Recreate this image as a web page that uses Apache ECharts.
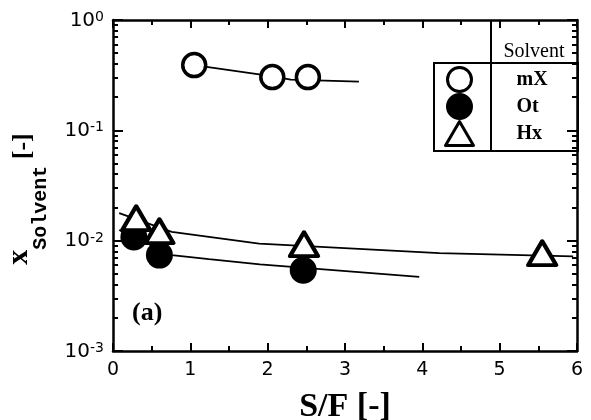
<!DOCTYPE html>
<html><head><meta charset="utf-8">
<script src="https://cdn.jsdelivr.net/npm/echarts@6/dist/echarts.min.js"></script>
<style>html,body{margin:0;padding:0;background:#fff}#c{width:591px;height:420px}</style>
</head><body><div id="c"></div>
<script>
// ---- data ----
const seriesNames = ['mX', 'Ot', 'Hx'];
const mX_sf = [1.05, 2.06, 2.52];
const mX_x  = [0.39, 0.304, 0.304];
const Ot_sf = [0.27, 0.60, 2.46];
const Ot_x  = [0.0108, 0.0074, 0.0054];
const Hx_sf = [0.30, 0.60, 2.47, 5.55];
const Hx_x  = [0.0160, 0.0122, 0.0093, 0.0077];
// correlation (fit) lines
const mXfit_sf = [1.05, 1.89, 2.30, 3.18];
const mXfit_x  = [0.39, 0.322, 0.288, 0.276];
const Otfit_sf = [0.08, 0.76, 1.24, 1.90, 3.96];
const Otfit_x  = [0.0125, 0.0074, 0.0068, 0.0061, 0.0047];
const Hxfit_sf = [0.08, 0.76, 1.89, 4.22, 5.95];
const Hxfit_x  = [0.0178, 0.0120, 0.0094, 0.0077, 0.0072];
// ticks
const xTickLabels = ['0', '1', '2', '3', '4', '5', '6'];
const yTickValues = [0.001, 0.01, 0.1, 1];
const yTickExps = ['-3', '-2', '-1', '0'];
const yMinorMult = [2, 3, 4, 5, 6, 7, 8, 9];

const zip = (a, b) => a.map((v, i) => [v, b[i]]);
const yMinorValues = [];
yTickValues.slice(0, -1).forEach(d => yMinorMult.forEach(m => yMinorValues.push(+(d * m).toPrecision(3))));

const SERIF = '"Liberation Serif", "Times New Roman", serif';
const SANS = '"DejaVu Sans", sans-serif';
const MONO = '"Liberation Mono", monospace';
const K = '#000';

const chart = echarts.init(document.getElementById('c'), null, {renderer: 'canvas'});

const baseY = {
  type: 'log', logBase: 10, min: 0.001, max: 1,
  splitLine: {show: false}, minorSplitLine: {show: false}
};
const yLabelFmt = v => {
  const i = yTickValues.findIndex(t => Math.abs(Math.log10(t) - Math.log10(v)) < 1e-6);
  return i < 0 ? '' : '{b|10}{s|' + yTickExps[i] + '}';
};

const option = {
  animation: false,
  backgroundColor: '#fff',
  grid: {left: 113, right: 14, top: 20, bottom: 69, containLabel: false, outerBoundsMode: 'none'},
  xAxis: [
    {
      type: 'value', min: 0, max: 6, interval: 1, position: 'bottom',
      name: 'S/F [-]', nameLocation: 'middle', nameGap: 39,
      nameTextStyle: {fontFamily: SERIF, fontWeight: 'bold', fontSize: 34, color: K, lineHeight: 34},
      axisLine: {show: true, lineStyle: {color: K, width: 2.5}},
      axisTick: {show: true, inside: true, length: 8, lineStyle: {color: K, width: 2}},
      minorTick: {show: true, splitNumber: 2, length: 5, lineStyle: {color: K, width: 2}},
      axisLabel: {margin: 10, fontFamily: SANS, fontSize: 19, color: K, formatter: v => xTickLabels[Math.round(v)]},
      splitLine: {show: false}
    },
    {
      type: 'value', min: 0, max: 6, interval: 1, position: 'top',
      axisLine: {show: true, lineStyle: {color: K, width: 2.5}},
      axisTick: {show: true, inside: true, length: 8, lineStyle: {color: K, width: 2}},
      minorTick: {show: true, splitNumber: 2, length: 5, lineStyle: {color: K, width: 2}},
      axisLabel: {show: false}, splitLine: {show: false}
    }
  ],
  yAxis: [
    Object.assign({}, baseY, {
      position: 'left',
      name: '{x|x}{s|Solvent}{b| [-]}', nameLocation: 'middle', nameRotate: 90, nameGap: 62,
      nameTextStyle: {
        color: K, fontSize: 12, padding: [0, 27, 0, 0],
        rich: {
          x: {fontFamily: SERIF, fontWeight: 'bold', fontSize: 30, lineHeight: 30, verticalAlign: 'top', color: K},
          b: {fontFamily: SERIF, fontWeight: 'bold', fontSize: 26, lineHeight: 30, verticalAlign: 'top', padding: [6, 0, 0, 0], color: K},
          s: {fontFamily: MONO, fontWeight: 'bold', fontSize: 20, lineHeight: 47, verticalAlign: 'bottom', color: K}
        }
      },
      axisLine: {show: true, lineStyle: {color: K, width: 2.5}},
      axisTick: {show: true, inside: true, length: 10, lineStyle: {color: K, width: 2}},
      axisLabel: {
        margin: 9, formatter: yLabelFmt, padding: [7, 0, 0, 0],
        rich: {
          b: {fontFamily: SANS, fontSize: 20, color: K, lineHeight: 26, verticalAlign: 'top'},
          s: {fontFamily: SANS, fontSize: 14, color: K, lineHeight: 14, verticalAlign: 'top'}
        }
      }
    }),
    Object.assign({}, baseY, {
      position: 'left',
      axisLine: {show: false},
      axisTick: {show: true, inside: true, length: 5, customValues: yMinorValues, lineStyle: {color: K, width: 2}},
      axisLabel: {show: false}
    }),
    Object.assign({}, baseY, {
      position: 'right',
      axisLine: {show: true, lineStyle: {color: K, width: 2.5}},
      axisTick: {show: true, inside: true, length: 10, lineStyle: {color: K, width: 2}},
      axisLabel: {show: false}
    }),
    Object.assign({}, baseY, {
      position: 'right',
      axisLine: {show: false},
      axisTick: {show: true, inside: true, length: 5, customValues: yMinorValues, lineStyle: {color: K, width: 2}},
      axisLabel: {show: false}
    })
  ],
  legend: {
    data: seriesNames, orient: 'vertical', left: 444, top: 66, padding: 0,
    itemWidth: 28, itemHeight: 24, itemGap: 0, selectedMode: false,
    itemStyle: {borderWidth: 3},
    textStyle: {fontFamily: SERIF, fontWeight: 'bold', fontSize: 20, color: K, padding: [0, 0, 0, 38]}
  },
  graphic: [
    {type: 'rect', shape: {x: 434, y: 63, width: 144, height: 88}, style: {fill: 'none', stroke: K, lineWidth: 2}, z: 10},
    {type: 'line', shape: {x1: 491, y1: 20, x2: 491, y2: 151}, style: {stroke: K, lineWidth: 2}, z: 10},
    {type: 'text', x: 534, y: 52, style: {text: 'Solvent', font: '20px ' + SERIF, fill: K, align: 'center', verticalAlign: 'middle'}, z: 10},
    {type: 'text', x: 132, y: 313, style: {text: '(a)', font: 'bold 26px ' + SERIF, fill: K, align: 'left', verticalAlign: 'middle'}, z: 10}
  ],
  series: [
    {name: 'mX fit', type: 'line', data: zip(mXfit_sf, mXfit_x), symbol: 'none', silent: true, z: 2, lineStyle: {color: K, width: 1.8}},
    {name: 'Ot fit', type: 'line', data: zip(Otfit_sf, Otfit_x), symbol: 'none', silent: true, z: 2, lineStyle: {color: K, width: 1.8}},
    {name: 'Hx fit', type: 'line', data: zip(Hxfit_sf, Hxfit_x), symbol: 'none', silent: true, z: 2, lineStyle: {color: K, width: 1.8}},
    {name: 'mX', type: 'scatter', data: zip(mX_sf, mX_x), symbol: 'circle', symbolSize: 23, z: 3,
      itemStyle: {color: '#fff', borderColor: K, borderWidth: 3.5, opacity: 1}},
    {name: 'Ot', type: 'scatter', data: zip(Ot_sf, Ot_x), symbol: 'circle', symbolSize: 27, z: 4,
      itemStyle: {color: K, borderColor: K, borderWidth: 0, opacity: 1}},
    {name: 'Hx', type: 'scatter', data: zip(Hx_sf, Hx_x), symbol: 'triangle', symbolSize: [28, 24], z: 5,
      itemStyle: {color: '#fff', borderColor: K, borderWidth: 4, borderJoin: 'round', opacity: 1}}
  ]
};
chart.setOption(option);
</script>
</body></html>
